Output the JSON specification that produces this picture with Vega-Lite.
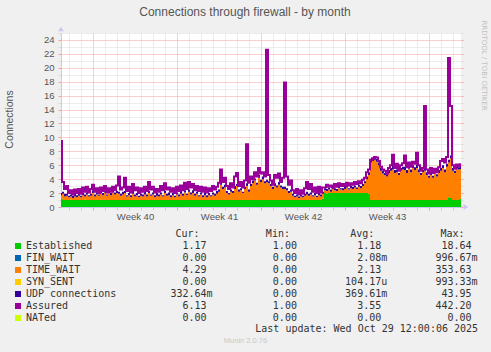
{
"$schema": "https://vega.github.io/schema/vega-lite/v6.json",
"width": 400,
"height": 174,
"autosize": {"type": "none"},
"padding": {"left": 61, "top": 33, "right": 30, "bottom": 145},
"background": "#f0f0f0",
"title": {"text": "Connections through firewall - by month", "font": "Liberation Sans", "fontSize": 12, "fontWeight": "normal", "color": "#555555", "anchor": "middle", "dx": -16, "offset": -4, "baseline": "middle"},
"config": {
  "view": {"fill": "#ffffff", "stroke": null},
  "axis": {"labelFont": "Liberation Sans", "labelFontSize": 9.5, "labelColor": "#555555", "titleFontWeight": "normal"}
},
"data": {"values": [
{"h":0,"Established":1.2,"TIME_WAIT":0.5,"UDP connections":0.3,"Assured":9.5},
{"h":4,"Established":1.1,"TIME_WAIT":0.8,"UDP connections":0.3,"Assured":3.6},
{"h":8,"Established":1.0,"TIME_WAIT":0.5,"UDP connections":0.4,"Assured":2.6},
{"h":12,"Established":1.0,"TIME_WAIT":0.6,"UDP connections":0.3,"Assured":3.0},
{"h":16,"Established":1.0,"TIME_WAIT":0.4,"UDP connections":0.2,"Assured":2.0},
{"h":20,"Established":1.05,"TIME_WAIT":0.45,"UDP connections":0.3,"Assured":2.4},
{"h":24,"Established":1.0,"TIME_WAIT":0.3,"UDP connections":0.3,"Assured":1.8},
{"h":28,"Established":1.0,"TIME_WAIT":0.5,"UDP connections":0.4,"Assured":2.5},
{"h":32,"Established":1.0,"TIME_WAIT":0.4,"UDP connections":0.3,"Assured":2.0},
{"h":36,"Established":1.0,"TIME_WAIT":0.6,"UDP connections":0.3,"Assured":2.6},
{"h":40,"Established":1.0,"TIME_WAIT":0.4,"UDP connections":0.2,"Assured":1.9},
{"h":44,"Established":1.0,"TIME_WAIT":0.7,"UDP connections":0.4,"Assured":2.8},
{"h":48,"Established":1.05,"TIME_WAIT":0.45,"UDP connections":0.3,"Assured":2.2},
{"h":52,"Established":1.0,"TIME_WAIT":0.8,"UDP connections":0.3,"Assured":2.9},
{"h":56,"Established":1.0,"TIME_WAIT":0.5,"UDP connections":0.2,"Assured":2.1},
{"h":60,"Established":1.0,"TIME_WAIT":0.6,"UDP connections":0.3,"Assured":2.6},
{"h":64,"Established":1.0,"TIME_WAIT":1.0,"UDP connections":0.4,"Assured":3.2},
{"h":68,"Established":1.0,"TIME_WAIT":0.5,"UDP connections":0.3,"Assured":2.2},
{"h":72,"Established":1.0,"TIME_WAIT":0.8,"UDP connections":0.3,"Assured":2.7},
{"h":76,"Established":1.0,"TIME_WAIT":0.6,"UDP connections":0.2,"Assured":2.0},
{"h":80,"Established":1.05,"TIME_WAIT":0.95,"UDP connections":0.3,"Assured":2.8},
{"h":84,"Established":1.0,"TIME_WAIT":0.7,"UDP connections":0.3,"Assured":2.3},
{"h":88,"Established":1.0,"TIME_WAIT":1.1,"UDP connections":0.4,"Assured":3.0},
{"h":92,"Established":1.0,"TIME_WAIT":0.6,"UDP connections":0.2,"Assured":2.1},
{"h":96,"Established":1.0,"TIME_WAIT":1.0,"UDP connections":0.3,"Assured":2.7},
{"h":100,"Established":1.0,"TIME_WAIT":0.7,"UDP connections":0.3,"Assured":2.2},
{"h":104,"Established":1.0,"TIME_WAIT":1.1,"UDP connections":0.4,"Assured":2.9},
{"h":108,"Established":1.0,"TIME_WAIT":0.8,"UDP connections":0.3,"Assured":2.4},
{"h":112,"Established":1.0,"TIME_WAIT":1.0,"UDP connections":0.3,"Assured":3.1},
{"h":116,"Established":1.0,"TIME_WAIT":0.9,"UDP connections":0.3,"Assured":4.4},
{"h":120,"Established":1.0,"TIME_WAIT":0.6,"UDP connections":0.3,"Assured":2.5},
{"h":124,"Established":1.0,"TIME_WAIT":0.8,"UDP connections":0.4,"Assured":2.8},
{"h":128,"Established":1.0,"TIME_WAIT":1.0,"UDP connections":0.3,"Assured":4.2},
{"h":132,"Established":1.0,"TIME_WAIT":0.5,"UDP connections":0.2,"Assured":2.3},
{"h":136,"Established":1.0,"TIME_WAIT":0.7,"UDP connections":0.3,"Assured":2.9},
{"h":140,"Established":1.0,"TIME_WAIT":0.4,"UDP connections":0.3,"Assured":2.1},
{"h":144,"Established":1.0,"TIME_WAIT":0.9,"UDP connections":0.4,"Assured":3.3},
{"h":148,"Established":1.0,"TIME_WAIT":0.5,"UDP connections":0.3,"Assured":2.4},
{"h":152,"Established":1.0,"TIME_WAIT":0.7,"UDP connections":0.3,"Assured":2.8},
{"h":156,"Established":1.0,"TIME_WAIT":0.4,"UDP connections":0.2,"Assured":2.0},
{"h":160,"Established":1.0,"TIME_WAIT":0.6,"UDP connections":0.3,"Assured":2.7},
{"h":164,"Established":1.0,"TIME_WAIT":0.5,"UDP connections":0.3,"Assured":2.2},
{"h":168,"Established":1.0,"TIME_WAIT":0.8,"UDP connections":0.4,"Assured":2.9},
{"h":172,"Established":1.0,"TIME_WAIT":0.5,"UDP connections":0.3,"Assured":2.3},
{"h":176,"Established":1.0,"TIME_WAIT":1.0,"UDP connections":0.3,"Assured":3.6},
{"h":180,"Established":1.0,"TIME_WAIT":0.6,"UDP connections":0.2,"Assured":2.5},
{"h":184,"Established":1.0,"TIME_WAIT":0.8,"UDP connections":0.3,"Assured":2.9},
{"h":188,"Established":1.0,"TIME_WAIT":0.4,"UDP connections":0.3,"Assured":2.1},
{"h":192,"Established":1.0,"TIME_WAIT":0.6,"UDP connections":0.4,"Assured":2.6},
{"h":196,"Established":1.0,"TIME_WAIT":0.5,"UDP connections":0.3,"Assured":2.2},
{"h":200,"Established":1.0,"TIME_WAIT":0.8,"UDP connections":0.3,"Assured":3.0},
{"h":204,"Established":1.0,"TIME_WAIT":0.5,"UDP connections":0.2,"Assured":2.4},
{"h":208,"Established":1.0,"TIME_WAIT":1.0,"UDP connections":0.3,"Assured":3.4},
{"h":212,"Established":1.0,"TIME_WAIT":0.6,"UDP connections":0.3,"Assured":2.5},
{"h":216,"Established":1.0,"TIME_WAIT":0.7,"UDP connections":0.4,"Assured":2.8},
{"h":220,"Established":1.0,"TIME_WAIT":0.4,"UDP connections":0.3,"Assured":2.2},
{"h":224,"Established":1.0,"TIME_WAIT":0.7,"UDP connections":0.3,"Assured":2.7},
{"h":228,"Established":1.0,"TIME_WAIT":0.4,"UDP connections":0.2,"Assured":2.0},
{"h":232,"Established":1.0,"TIME_WAIT":0.8,"UDP connections":0.3,"Assured":2.9},
{"h":236,"Established":1.0,"TIME_WAIT":0.5,"UDP connections":0.3,"Assured":2.3},
{"h":240,"Established":1.0,"TIME_WAIT":0.9,"UDP connections":0.4,"Assured":3.1},
{"h":244,"Established":1.0,"TIME_WAIT":0.6,"UDP connections":0.3,"Assured":2.4},
{"h":248,"Established":1.0,"TIME_WAIT":1.1,"UDP connections":0.3,"Assured":3.5},
{"h":252,"Established":1.0,"TIME_WAIT":0.7,"UDP connections":0.2,"Assured":2.6},
{"h":256,"Established":1.0,"TIME_WAIT":1.2,"UDP connections":0.3,"Assured":3.6},
{"h":260,"Established":1.0,"TIME_WAIT":0.8,"UDP connections":0.3,"Assured":2.8},
{"h":264,"Established":1.0,"TIME_WAIT":1.0,"UDP connections":0.4,"Assured":3.3},
{"h":268,"Established":1.0,"TIME_WAIT":0.6,"UDP connections":0.3,"Assured":2.4},
{"h":272,"Established":1.0,"TIME_WAIT":0.9,"UDP connections":0.3,"Assured":3.0},
{"h":276,"Established":1.0,"TIME_WAIT":0.5,"UDP connections":0.2,"Assured":2.3},
{"h":280,"Established":1.0,"TIME_WAIT":0.8,"UDP connections":0.3,"Assured":2.9},
{"h":284,"Established":1.0,"TIME_WAIT":0.4,"UDP connections":0.3,"Assured":2.2},
{"h":288,"Established":1.0,"TIME_WAIT":0.7,"UDP connections":0.4,"Assured":2.8},
{"h":292,"Established":1.0,"TIME_WAIT":0.4,"UDP connections":0.3,"Assured":2.1},
{"h":296,"Established":1.0,"TIME_WAIT":0.7,"UDP connections":0.3,"Assured":2.7},
{"h":300,"Established":1.0,"TIME_WAIT":0.5,"UDP connections":0.2,"Assured":2.3},
{"h":304,"Established":1.0,"TIME_WAIT":0.8,"UDP connections":0.3,"Assured":3.0},
{"h":308,"Established":1.0,"TIME_WAIT":0.6,"UDP connections":0.3,"Assured":2.5},
{"h":312,"Established":1.0,"TIME_WAIT":0.9,"UDP connections":0.4,"Assured":2.9},
{"h":316,"Established":1.0,"TIME_WAIT":1.2,"UDP connections":0.3,"Assured":3.5},
{"h":320,"Established":1.0,"TIME_WAIT":2.2,"UDP connections":0.3,"Assured":5.4},
{"h":324,"Established":1.0,"TIME_WAIT":1.6,"UDP connections":0.3,"Assured":3.6},
{"h":328,"Established":1.0,"TIME_WAIT":1.8,"UDP connections":0.4,"Assured":4.2},
{"h":332,"Established":1.0,"TIME_WAIT":1.0,"UDP connections":0.3,"Assured":3.0},
{"h":336,"Established":1.0,"TIME_WAIT":0.8,"UDP connections":0.2,"Assured":2.6},
{"h":340,"Established":1.0,"TIME_WAIT":1.2,"UDP connections":0.3,"Assured":3.4},
{"h":344,"Established":1.0,"TIME_WAIT":1.0,"UDP connections":0.3,"Assured":2.8},
{"h":348,"Established":1.0,"TIME_WAIT":1.6,"UDP connections":0.4,"Assured":4.4},
{"h":352,"Established":1.0,"TIME_WAIT":2.0,"UDP connections":0.3,"Assured":4.9},
{"h":356,"Established":1.0,"TIME_WAIT":1.2,"UDP connections":0.3,"Assured":3.0},
{"h":360,"Established":1.0,"TIME_WAIT":1.4,"UDP connections":0.3,"Assured":3.6},
{"h":364,"Established":1.0,"TIME_WAIT":1.0,"UDP connections":0.2,"Assured":2.8},
{"h":368,"Established":1.0,"TIME_WAIT":1.6,"UDP connections":0.3,"Assured":3.8},
{"h":372,"Established":1.0,"TIME_WAIT":2.0,"UDP connections":0.4,"Assured":9.0},
{"h":376,"Established":1.0,"TIME_WAIT":1.2,"UDP connections":0.3,"Assured":3.5},
{"h":380,"Established":1.0,"TIME_WAIT":2.0,"UDP connections":0.3,"Assured":4.4},
{"h":384,"Established":1.0,"TIME_WAIT":2.4,"UDP connections":0.4,"Assured":4.0},
{"h":388,"Established":1.0,"TIME_WAIT":2.8,"UDP connections":0.3,"Assured":5.0},
{"h":392,"Established":1.0,"TIME_WAIT":2.2,"UDP connections":0.3,"Assured":4.4},
{"h":396,"Established":1.0,"TIME_WAIT":3.2,"UDP connections":0.4,"Assured":5.6},
{"h":400,"Established":1.0,"TIME_WAIT":2.6,"UDP connections":0.3,"Assured":4.8},
{"h":404,"Established":1.0,"TIME_WAIT":3.0,"UDP connections":0.4,"Assured":5.0},
{"h":408,"Established":1.0,"TIME_WAIT":2.4,"UDP connections":0.3,"Assured":4.4},
{"h":412,"Established":1.0,"TIME_WAIT":2.6,"UDP connections":0.3,"Assured":22.6},
{"h":416,"Established":1.0,"TIME_WAIT":2.4,"UDP connections":0.3,"Assured":4.6},
{"h":420,"Established":1.0,"TIME_WAIT":2.0,"UDP connections":0.3,"Assured":3.8},
{"h":424,"Established":1.0,"TIME_WAIT":1.6,"UDP connections":0.3,"Assured":3.2},
{"h":428,"Established":1.0,"TIME_WAIT":2.0,"UDP connections":0.4,"Assured":4.6},
{"h":432,"Established":1.0,"TIME_WAIT":1.8,"UDP connections":0.3,"Assured":4.2},
{"h":436,"Established":1.0,"TIME_WAIT":2.2,"UDP connections":0.4,"Assured":4.8},
{"h":440,"Established":1.0,"TIME_WAIT":1.8,"UDP connections":0.3,"Assured":3.6},
{"h":444,"Established":1.0,"TIME_WAIT":1.6,"UDP connections":0.3,"Assured":4.2},
{"h":448,"Established":1.0,"TIME_WAIT":1.6,"UDP connections":0.3,"Assured":17.9},
{"h":452,"Established":1.0,"TIME_WAIT":1.4,"UDP connections":0.3,"Assured":4.4},
{"h":456,"Established":1.0,"TIME_WAIT":1.0,"UDP connections":0.3,"Assured":3.2},
{"h":460,"Established":1.0,"TIME_WAIT":1.2,"UDP connections":0.3,"Assured":3.8},
{"h":464,"Established":1.0,"TIME_WAIT":0.6,"UDP connections":0.3,"Assured":2.4},
{"h":468,"Established":1.0,"TIME_WAIT":0.4,"UDP connections":0.2,"Assured":2.0},
{"h":472,"Established":1.0,"TIME_WAIT":0.5,"UDP connections":0.3,"Assured":2.6},
{"h":476,"Established":1.0,"TIME_WAIT":0.3,"UDP connections":0.2,"Assured":1.8},
{"h":480,"Established":1.0,"TIME_WAIT":0.5,"UDP connections":0.3,"Assured":2.4},
{"h":484,"Established":1.0,"TIME_WAIT":0.4,"UDP connections":0.2,"Assured":1.9},
{"h":488,"Established":1.0,"TIME_WAIT":0.6,"UDP connections":0.3,"Assured":2.7},
{"h":492,"Established":1.0,"TIME_WAIT":0.8,"UDP connections":0.4,"Assured":3.6},
{"h":496,"Established":1.0,"TIME_WAIT":0.6,"UDP connections":0.3,"Assured":2.6},
{"h":500,"Established":1.0,"TIME_WAIT":0.8,"UDP connections":0.3,"Assured":3.3},
{"h":504,"Established":1.0,"TIME_WAIT":0.5,"UDP connections":0.2,"Assured":2.2},
{"h":508,"Established":1.0,"TIME_WAIT":0.7,"UDP connections":0.3,"Assured":2.8},
{"h":512,"Established":1.0,"TIME_WAIT":0.4,"UDP connections":0.2,"Assured":2.0},
{"h":516,"Established":1.0,"TIME_WAIT":0.7,"UDP connections":0.3,"Assured":2.9},
{"h":520,"Established":1.0,"TIME_WAIT":0.5,"UDP connections":0.3,"Assured":2.1},
{"h":524,"Established":1.2,"TIME_WAIT":0.7,"UDP connections":0.3,"Assured":2.8},
{"h":528,"Established":2.0,"TIME_WAIT":0.4,"UDP connections":0.3,"Assured":2.8},
{"h":532,"Established":1.95,"TIME_WAIT":0.35,"UDP connections":0.3,"Assured":3.2},
{"h":536,"Established":2.0,"TIME_WAIT":0.5,"UDP connections":0.3,"Assured":2.9},
{"h":540,"Established":2.0,"TIME_WAIT":0.2,"UDP connections":0.3,"Assured":3.1},
{"h":544,"Established":2.0,"TIME_WAIT":0.6,"UDP connections":0.2,"Assured":2.8},
{"h":548,"Established":2.0,"TIME_WAIT":0.4,"UDP connections":0.3,"Assured":3.3},
{"h":552,"Established":2.0,"TIME_WAIT":0.3,"UDP connections":0.3,"Assured":2.9},
{"h":556,"Established":2.0,"TIME_WAIT":0.7,"UDP connections":0.3,"Assured":3.4},
{"h":560,"Established":2.0,"TIME_WAIT":0.5,"UDP connections":0.2,"Assured":3.0},
{"h":564,"Established":2.0,"TIME_WAIT":0.4,"UDP connections":0.3,"Assured":3.3},
{"h":568,"Established":2.0,"TIME_WAIT":0.6,"UDP connections":0.3,"Assured":3.0},
{"h":572,"Established":2.0,"TIME_WAIT":0.8,"UDP connections":0.3,"Assured":3.5},
{"h":576,"Established":2.0,"TIME_WAIT":0.5,"UDP connections":0.2,"Assured":3.1},
{"h":580,"Established":2.0,"TIME_WAIT":0.7,"UDP connections":0.3,"Assured":3.4},
{"h":584,"Established":2.0,"TIME_WAIT":0.6,"UDP connections":0.3,"Assured":3.2},
{"h":588,"Established":2.0,"TIME_WAIT":0.8,"UDP connections":0.3,"Assured":3.6},
{"h":592,"Established":2.0,"TIME_WAIT":0.6,"UDP connections":0.2,"Assured":3.3},
{"h":596,"Established":2.0,"TIME_WAIT":0.9,"UDP connections":0.3,"Assured":3.7},
{"h":600,"Established":2.0,"TIME_WAIT":0.7,"UDP connections":0.3,"Assured":3.4},
{"h":604,"Established":2.0,"TIME_WAIT":1.0,"UDP connections":0.3,"Assured":3.9},
{"h":608,"Established":2.0,"TIME_WAIT":1.4,"UDP connections":0.3,"Assured":4.2},
{"h":612,"Established":2.0,"TIME_WAIT":2.0,"UDP connections":0.4,"Assured":5.0},
{"h":616,"Established":1.9,"TIME_WAIT":2.7,"UDP connections":0.4,"Assured":5.4},
{"h":620,"Established":1.0,"TIME_WAIT":5.4,"UDP connections":0.4,"Assured":6.8},
{"h":624,"Established":1.0,"TIME_WAIT":5.6,"UDP connections":0.4,"Assured":7.0},
{"h":628,"Established":1.0,"TIME_WAIT":5.8,"UDP connections":0.4,"Assured":7.2},
{"h":632,"Established":1.0,"TIME_WAIT":5.5,"UDP connections":0.4,"Assured":7.1},
{"h":636,"Established":1.0,"TIME_WAIT":5.0,"UDP connections":0.4,"Assured":6.6},
{"h":640,"Established":1.0,"TIME_WAIT":4.2,"UDP connections":0.4,"Assured":5.8},
{"h":644,"Established":1.0,"TIME_WAIT":3.8,"UDP connections":0.4,"Assured":5.4},
{"h":648,"Established":1.0,"TIME_WAIT":3.6,"UDP connections":0.3,"Assured":5.2},
{"h":652,"Established":1.0,"TIME_WAIT":3.4,"UDP connections":0.3,"Assured":4.8},
{"h":656,"Established":1.0,"TIME_WAIT":3.9,"UDP connections":0.4,"Assured":5.6},
{"h":660,"Established":1.0,"TIME_WAIT":4.2,"UDP connections":0.4,"Assured":6.0},
{"h":664,"Established":1.0,"TIME_WAIT":4.4,"UDP connections":0.5,"Assured":7.5},
{"h":668,"Established":1.0,"TIME_WAIT":3.9,"UDP connections":0.4,"Assured":5.6},
{"h":672,"Established":1.0,"TIME_WAIT":4.0,"UDP connections":0.4,"Assured":6.2},
{"h":676,"Established":1.0,"TIME_WAIT":3.6,"UDP connections":0.3,"Assured":5.2},
{"h":680,"Established":1.0,"TIME_WAIT":4.2,"UDP connections":0.4,"Assured":6.0},
{"h":684,"Established":1.0,"TIME_WAIT":4.4,"UDP connections":0.4,"Assured":6.3},
{"h":688,"Established":1.0,"TIME_WAIT":4.3,"UDP connections":0.5,"Assured":7.4},
{"h":692,"Established":1.0,"TIME_WAIT":3.9,"UDP connections":0.4,"Assured":5.7},
{"h":696,"Established":1.0,"TIME_WAIT":4.5,"UDP connections":0.4,"Assured":6.4},
{"h":700,"Established":1.0,"TIME_WAIT":4.0,"UDP connections":0.4,"Assured":5.8},
{"h":704,"Established":1.0,"TIME_WAIT":4.6,"UDP connections":0.4,"Assured":6.5},
{"h":708,"Established":1.0,"TIME_WAIT":4.3,"UDP connections":0.4,"Assured":6.2},
{"h":712,"Established":1.0,"TIME_WAIT":4.6,"UDP connections":0.5,"Assured":7.8},
{"h":716,"Established":1.0,"TIME_WAIT":4.0,"UDP connections":0.4,"Assured":6.0},
{"h":720,"Established":1.0,"TIME_WAIT":3.6,"UDP connections":0.3,"Assured":5.2},
{"h":724,"Established":1.0,"TIME_WAIT":4.0,"UDP connections":0.4,"Assured":5.6},
{"h":728,"Established":1.0,"TIME_WAIT":4.2,"UDP connections":0.4,"Assured":14.5},
{"h":732,"Established":1.0,"TIME_WAIT":3.6,"UDP connections":0.4,"Assured":5.4},
{"h":736,"Established":1.0,"TIME_WAIT":3.2,"UDP connections":0.3,"Assured":4.8},
{"h":740,"Established":1.0,"TIME_WAIT":3.6,"UDP connections":0.4,"Assured":5.6},
{"h":744,"Established":1.0,"TIME_WAIT":3.2,"UDP connections":0.3,"Assured":4.9},
{"h":748,"Established":1.0,"TIME_WAIT":3.8,"UDP connections":0.4,"Assured":5.5},
{"h":752,"Established":1.0,"TIME_WAIT":3.4,"UDP connections":0.3,"Assured":5.0},
{"h":756,"Established":1.0,"TIME_WAIT":3.9,"UDP connections":0.4,"Assured":5.7},
{"h":760,"Established":1.0,"TIME_WAIT":4.2,"UDP connections":0.4,"Assured":6.6},
{"h":764,"Established":1.0,"TIME_WAIT":4.6,"UDP connections":0.4,"Assured":6.9},
{"h":768,"Established":1.0,"TIME_WAIT":4.0,"UDP connections":0.4,"Assured":6.4},
{"h":772,"Established":1.0,"TIME_WAIT":4.8,"UDP connections":0.4,"Assured":7.2},
{"h":776,"Established":1.4,"TIME_WAIT":5.0,"UDP connections":0.4,"Assured":21.4},
{"h":780,"Established":1.3,"TIME_WAIT":5.7,"UDP connections":0.4,"Assured":14.5},
{"h":784,"Established":1.0,"TIME_WAIT":4.2,"UDP connections":0.4,"Assured":6.0},
{"h":788,"Established":1.0,"TIME_WAIT":3.9,"UDP connections":0.3,"Assured":5.5},
{"h":792,"Established":1.0,"TIME_WAIT":4.5,"UDP connections":0.4,"Assured":6.1},
{"h":796,"Established":1.0,"TIME_WAIT":4.4,"UDP connections":0.3,"Assured":5.9},
{"h":800,"Established":1.17,"TIME_WAIT":4.29,"UDP connections":0.33,"Assured":6.13}
]},
"layer": [
  {
    "transform": [{"fold": ["Established", "TIME_WAIT", "UDP connections"], "as": ["s", "v"]}],
    "mark": {"type": "area", "interpolate": "step"},
    "encoding": {
      "x": {"field": "h", "type": "quantitative", "scale": {"domain": [0, 800], "nice": false, "zero": false},
        "axis": {"orient": "bottom", "values": [16,40,88,112,136,160,184,208,256,280,304,328,352,376,424,448,472,496,520,544,592,616,640,664,688,712,760,784],
          "grid": true, "gridColor": "#dadada", "gridDash": [1, 1], "ticks": true, "tickSize": 3, "tickColor": "#cccccc", "labels": false,
          "domain": true, "domainColor": "#c8c8f0",
          "title": "Last update: Wed Oct 29 12:00:06 2025", "titleFont": "DejaVu Sans Mono", "titleFontSize": 10, "titleColor": "#333333",
          "titleX": 193.8, "titleY": 121.7, "titleAlign": "left", "titleBaseline": "middle"}},
      "y": {"field": "v", "type": "quantitative", "stack": "zero", "scale": {"domain": [0, 25], "nice": false},
        "axis": {"orient": "left", "values": [1,3,5,7,9,11,13,15,17,19,21,23,25], "grid": true, "gridColor": "#dadada", "gridDash": [1, 1],
          "ticks": true, "tickSize": 3, "tickColor": "#dadada", "labels": false, "domain": false, "title": null}},
      "color": {"field": "s", "type": "nominal",
        "scale": {"domain": ["Established", "FIN_WAIT", "TIME_WAIT", "SYN_SENT", "UDP connections", "Assured", "NATed"],
                  "range": ["#00cc00", "#0066b3", "#ff8000", "#ffcc00", "#330099", "#990099", "#ccff00"]},
        "legend": {"orient": "none", "legendX": -48, "legendY": 196, "direction": "vertical", "padding": 0,
          "title": "\u200b\u00a0\u00a0\u00a0\u00a0\u00a0\u00a0\u00a0\u00a0\u00a0\u00a0\u00a0\u00a0\u00a0\u00a0\u00a0\u00a0\u00a0\u00a0\u00a0\u00a0\u00a0\u00a0\u00a0\u00a0\u00a0\u00a0\u00a0Cur:\u00a0\u00a0\u00a0\u00a0\u00a0\u00a0\u00a0\u00a0\u00a0\u00a0\u00a0Min:\u00a0\u00a0\u00a0\u00a0\u00a0\u00a0\u00a0\u00a0\u00a0\u00a0Avg:\u00a0\u00a0\u00a0\u00a0\u00a0\u00a0\u00a0\u00a0\u00a0\u00a0\u00a0Max:",
          "titleFont": "DejaVu Sans Mono", "titleFontSize": 10, "titleFontWeight": "normal", "titleColor": "#333333", "titlePadding": 2, "titleLimit": 1000,
          "labelFont": "DejaVu Sans Mono", "labelFontSize": 10, "labelColor": "#333333", "labelLimit": 1000, "labelOffset": 3,
          "symbolType": "square", "symbolSize": 36, "symbolStrokeWidth": 0, "symbolOpacity": 1, "rowPadding": 2,
          "labelExpr": "replace({'Established':'Established~~~~~~~~~~~~~~~1.17~~~~~~~~~~~1.00~~~~~~~~~~1.18~~~~~~~~~~18.64','FIN_WAIT':'FIN_WAIT~~~~~~~~~~~~~~~~~~0.00~~~~~~~~~~~0.00~~~~~~~~~~2.08m~~~~~~~~996.67m','TIME_WAIT':'TIME_WAIT~~~~~~~~~~~~~~~~~4.29~~~~~~~~~~~0.00~~~~~~~~~~2.13~~~~~~~~~353.63','SYN_SENT':'SYN_SENT~~~~~~~~~~~~~~~~~~0.00~~~~~~~~~~~0.00~~~~~~~~104.17u~~~~~~~~993.33m','UDP connections':'UDP connections~~~~~~~~~332.64m~~~~~~~~~~0.00~~~~~~~~369.61m~~~~~~~~~43.95','Assured':'Assured~~~~~~~~~~~~~~~~~~~6.13~~~~~~~~~~~1.00~~~~~~~~~~3.55~~~~~~~~~442.20','NATed':'NATed~~~~~~~~~~~~~~~~~~~~~0.00~~~~~~~~~~~0.00~~~~~~~~~~0.00~~~~~~~~~~~0.00'}[datum.label], regexp('~','g'), '\u00a0')"}},
      "order": {"field": "s", "sort": "ascending"}
    }
  },
  {
    "mark": {"type": "line", "color": "#990099", "strokeWidth": 2, "interpolate": "step"},
    "encoding": {
      "x": {"field": "h", "type": "quantitative",
        "axis": {"orient": "bottom", "values": [64, 232, 400, 568, 736], "grid": true, "gridColor": "#f2a0a0", "gridDash": [1, 1],
          "ticks": true, "tickSize": 3, "tickColor": "#f2a0a0", "labels": false, "domain": false, "title": null}},
      "y": {"field": "Assured", "type": "quantitative", "scale": {"domain": [0, 25], "nice": false},
        "axis": {"orient": "left", "values": [0,2,4,6,8,10,12,14,16,18,20,22,24], "grid": true, "gridColor": "#f2a0a0", "gridDash": [1, 1],
          "ticks": true, "tickSize": 3, "tickColor": "#f2a0a0", "labelPadding": 4, "domain": true, "domainColor": "#c8c8f0",
          "title": "Connections", "titleFont": "Liberation Sans", "titleFontSize": 10.5, "titleColor": "#555555",
          "titleX": -51.7, "titleY": 86, "titleAngle": -90, "titleAlign": "center", "titleBaseline": "middle"}}
    }
  },
  {
    "data": {"values": [{}]},
    "mark": {"type": "point", "shape": "triangle-up", "filled": true, "size": 30, "color": "#c8c8f0", "opacity": 1, "yOffset": -4},
    "encoding": {
      "x": {"datum": 0, "type": "quantitative",
        "axis": {"orient": "bottom", "values": [148, 316, 484, 652], "grid": false, "ticks": false, "tickSize": 0, "labelPadding": 4, "domain": false,
          "labelExpr": "'Week ' + (40 + round((datum.value - 148) / 168))",
          "title": "Munin 2.0.76", "titleFont": "Liberation Sans", "titleFontSize": 7.5, "titleColor": "#c8c8c8",
          "titleX": 184, "titleY": 133.3, "titleAlign": "center", "titleBaseline": "middle"}},
      "y": {"datum": 25, "type": "quantitative",
        "axis": {"orient": "right", "values": [0,2,4,6,8,10,12,14,16,18,20,22,24], "grid": false, "ticks": true, "tickSize": 2, "tickColor": "#f2a0a0",
          "labels": false, "domain": false,
          "title": "RRDTOOL / TOBI OETIKER", "titleFont": "DejaVu Sans", "titleFontSize": 7, "titleColor": "#c0c0c0",
          "titleAngle": 90, "titleX": 22, "titleY": 32, "titleAlign": "center", "titleBaseline": "middle"}}
    }
  },
  {
    "data": {"values": [{}]},
    "mark": {"type": "point", "shape": "triangle-right", "filled": true, "size": 30, "color": "#c8c8f0", "opacity": 1, "xOffset": 5},
    "encoding": {
      "x": {"datum": 800, "type": "quantitative", "axis": null},
      "y": {"datum": 0, "type": "quantitative",
        "axis": {"orient": "right", "values": [1,3,5,7,9,11,13,15,17,19,21,23,25], "grid": false, "ticks": true, "tickSize": 2, "tickColor": "#dadada",
          "labels": false, "domain": false, "title": null}}
    }
  }
],
"resolve": {"axis": {"x": "independent", "y": "independent"}}
}
